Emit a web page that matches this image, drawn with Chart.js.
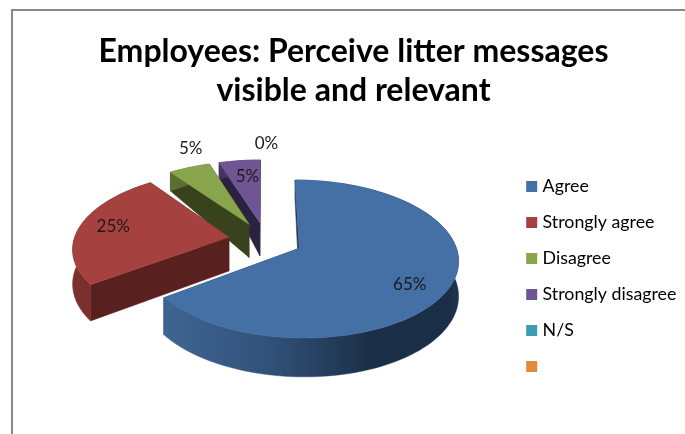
<!DOCTYPE html>
<html><head><meta charset="utf-8">
<script src="https://cdn.jsdelivr.net/npm/chart.js@4"></script>
<style>
html,body{margin:0;padding:0;background:#fff;width:685px;height:434px;overflow:hidden}
#frame{position:absolute;left:11px;top:9px;width:700px;height:440px;border-left:2px solid #8a8a8a;border-top:2px solid #8a8a8a}
canvas{display:block}
</style></head><body>
<div id="frame"><canvas id="c" width="681" height="423"></canvas></div>
<script>
const titleLines = ['Employees: Perceive litter messages', 'visible and relevant'];
const categories = ['Agree', 'Strongly agree', 'Disagree', 'Strongly disagree', 'N/S', ''];
const values = [65, 25, 5, 5, 0, null];
const topColors = ['#4470A5', '#A5423F', '#88A44C', '#6F5592', '#3F9AB3', '#E08A3E'];
const edgeColors = ['#1F3650', '#58201E', '#38431D', '#2B2140', '#1C4A57', '#6E421B'];
const rimColors = ['#2A4767', '#7A2F2C', '#5A6F30', '#463560', '#2A6A7C', '#99602A'];
const explosion = [0.24, 0.24, 0.24, 0.24, 0.24, 0.24];
const labelRadius = [0.783, 0.784, 1.329, 0.727, 1.314, 0];
const labelShiftDeg = [7, 2, 6.4, 1.6, 0.3, 0];

// oblique view of the pie disc
const CX = 252.5, CY = 229, RX = 155, KY = 75.3, P = 0.133;
const project = (u, v) => { const s = 1 / (1 - P * v); return [CX + u * RX * s, CY + v * KY * s]; };
const depth = y => y <= 209 ? 16 + 0.3 * (y - 152) : 33 + 0.05 * (y - 209);
const down = p => [p[0], p[1] + depth(p[1])];

function poly(ctx, pts, fill) {
  ctx.beginPath();
  pts.forEach((p, i) => i ? ctx.lineTo(p[0], p[1]) : ctx.moveTo(p[0], p[1]));
  ctx.closePath();
  ctx.fillStyle = fill; ctx.strokeStyle = fill; ctx.lineWidth = 0.5;
  ctx.fill(); ctx.stroke();
}

const pie3d = {
  id: 'pie3d',
  afterLayout(chart) {
    const lg = chart.legend;
    lg.left = 498.5;
    lg.top += 54; lg.bottom += 54;
  },
  beforeDatasetsDraw(chart) {
    const ctx = chart.ctx, arcs = chart.getDatasetMeta(0).data;
    const order = [3, 2, 1, 0];
    ctx.save();
    order.forEach(i => {
      const arc = arcs[i];
      const a0 = arc.startAngle, a1 = arc.endAngle;
      if (!(a1 > a0)) return;
      const mid = (a0 + a1) / 2, e = explosion[i];
      const ou = e * Math.cos(mid), ov = e * Math.sin(mid);
      const n = Math.max(2, Math.ceil((a1 - a0) / 0.03));
      const rim = [];
      for (let k = 0; k <= n; k++) {
        const a = a0 + (a1 - a0) * k / n;
        rim.push(project(ou + Math.cos(a), ov + Math.sin(a)));
      }
      const apex = project(ou, ov);
      poly(ctx, [apex, rim[0], down(rim[0]), down(apex)], edgeColors[i]);
      poly(ctx, [apex, rim[n], down(rim[n]), down(apex)], edgeColors[i]);
      let rimFill = rimColors[i];
      if (i === 0) {
        const g = ctx.createLinearGradient(150, 0, 450, 0);
        g.addColorStop(0, '#3E6592');
        g.addColorStop(0.35, '#32527A');
        g.addColorStop(0.7, '#1B2E47');
        g.addColorStop(0.95, '#1B2E47');
        g.addColorStop(1, '#20364F');
        rimFill = g;
      }
      poly(ctx, rim.concat(rim.slice().reverse().map(down)), rimFill);
      poly(ctx, [apex].concat(rim), topColors[i]);
    });
    // value labels
    ctx.font = '17px Lato';
    ctx.fillStyle = '#1a1a1a';
    ctx.textAlign = 'center';
    ctx.textBaseline = 'middle';
    arcs.forEach((arc, i) => {
      if (values[i] === null) return;
      const mid = (arc.startAngle + arc.endAngle) / 2, e = explosion[i];
      const a = mid + labelShiftDeg[i] * Math.PI / 180, r = labelRadius[i];
      const p = project(e * Math.cos(mid) + r * Math.cos(a), e * Math.sin(mid) + r * Math.sin(a));
      ctx.fillText(values[i] + '%', p[0], p[1]);
    });
    ctx.restore();
    return false;
  }
};

new Chart(document.getElementById('c'), {
  type: 'pie',
  data: { labels: categories, datasets: [{ data: values, backgroundColor: topColors, borderWidth: 0 }] },
  options: {
    responsive: false,
    animation: false,
    plugins: {
      tooltip: { enabled: false },
      title: {
        display: true, text: titleLines, color: '#000',
        font: { family: 'Lato', size: 32, weight: 'bold', lineHeight: 1.22 },
        padding: { top: 21, bottom: 11 }
      },
      legend: {
        position: 'right',
        labels: {
          boxWidth: 4, boxHeight: 4, padding: 18.2,
          color: '#262626', font: { family: 'Lato', size: 17.8 },
          generateLabels(chart) {
            return categories.map((text, i) => ({
              text, index: i, hidden: false,
              fillStyle: topColors[i], strokeStyle: topColors[i], lineWidth: 7
            }));
          }
        }
      }
    }
  },
  plugins: [pie3d]
});
</script>
</body></html>
